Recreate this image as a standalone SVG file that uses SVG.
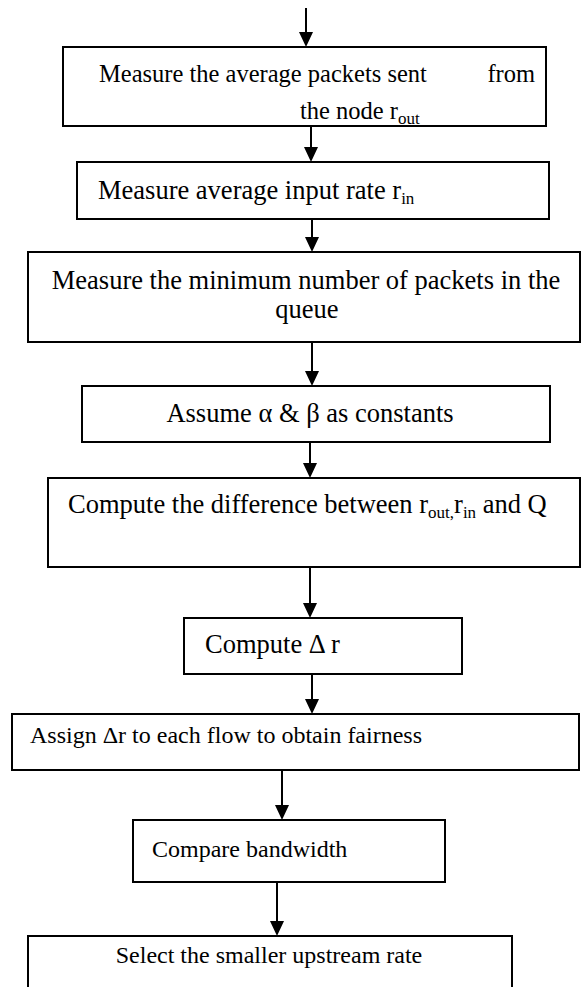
<svg xmlns="http://www.w3.org/2000/svg" width="581" height="987" viewBox="0 0 581 987">
<defs>
<style>
rect.box{fill:#fff;stroke:#000;stroke-width:2}
.t{font-family:'Liberation Serif','Times New Roman',serif;font-size:26.5px;fill:#000}
.s{font-size:24px}
.m{font-size:24.5px}
.sub{font-size:17px}
</style>
<clipPath id="clip1"><rect x="64" y="48" width="481" height="77"/></clipPath>
</defs>
<rect x="0" y="0" width="581" height="987" fill="#fff"/>
<g id="connectors">
<g stroke="#000" stroke-width="2" fill="none">
<line x1="306" y1="8" x2="306" y2="33"/>
<line x1="311" y1="126" x2="311" y2="148"/>
<line x1="312" y1="219" x2="312" y2="238"/>
<line x1="312" y1="342" x2="312" y2="372"/>
<line x1="310" y1="442" x2="310" y2="464"/>
<line x1="310" y1="567" x2="310" y2="604"/>
<line x1="312" y1="674" x2="312" y2="700"/>
<line x1="282" y1="770" x2="282" y2="806"/>
<line x1="277" y1="882" x2="277" y2="922"/>
</g>
<g fill="#000">
<path d="M299,32 L313,32 L306,47 Z"/>
<path d="M304,147 L318,147 L311,162 Z"/>
<path d="M305,237 L319,237 L312,252 Z"/>
<path d="M305,371 L319,371 L312,386 Z"/>
<path d="M303,463 L317,463 L310,478 Z"/>
<path d="M303,603 L317,603 L310,618 Z"/>
<path d="M305,699 L319,699 L312,714 Z"/>
<path d="M275,805 L289,805 L282,820 Z"/>
<path d="M270,921 L284,921 L277,936 Z"/>
</g>
</g>
<g id="n1">
<rect class="box" x="63" y="47" width="483" height="79"/>
<g clip-path="url(#clip1)">
<text class="t m" x="99" y="82">Measure the average packets sent</text>
<text class="t m" x="535" y="82" text-anchor="end">from</text>
<text class="t m" x="300" y="119">the node r<tspan class="sub" dy="5">out</tspan></text>
</g>
</g>
<g id="n2">
<rect class="box" x="77" y="162" width="472" height="57"/>
<text class="t" x="98" y="199">Measure average input rate r<tspan class="sub" dy="5">in</tspan></text>
</g>
<g id="n3">
<rect class="box" x="28" y="252" width="552" height="90"/>
<text class="t" x="306" y="289" text-anchor="middle">Measure the minimum number of packets in the</text>
<text class="t" x="307" y="318" text-anchor="middle">queue</text>
</g>
<g id="n4">
<rect class="box" x="82" y="386" width="468" height="56"/>
<text class="t" x="310" y="422" text-anchor="middle">Assume α &amp; β as constants</text>
</g>
<g id="n5">
<rect class="box" x="48" y="478" width="532" height="89"/>
<text class="t" x="68" y="513">Compute the difference between r<tspan class="sub" dy="5">out,</tspan><tspan dy="-5">r</tspan><tspan class="sub" dy="5">in</tspan><tspan dy="-5"> and Q</tspan></text>
</g>
<g id="n6">
<rect class="box" x="184" y="618" width="278" height="56"/>
<text class="t" x="205" y="653">Compute Δ r</text>
</g>
<g id="n7">
<rect class="box" x="12" y="714" width="567" height="56"/>
<text class="t s" x="30" y="743">Assign Δr to each flow to obtain fairness</text>
</g>
<g id="n8">
<rect class="box" x="133" y="820" width="312" height="62"/>
<text class="t s" x="152" y="857">Compare bandwidth</text>
</g>
<g id="n9">
<rect class="box" x="28" y="936" width="484" height="60"/>
<text class="t s" x="269" y="963" text-anchor="middle">Select the smaller upstream rate</text>
</g>
</svg>
